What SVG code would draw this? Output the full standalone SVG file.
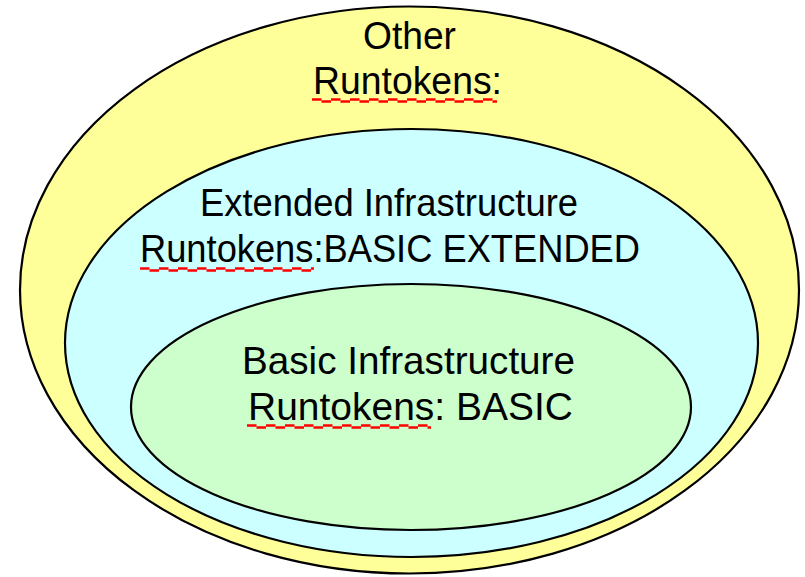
<svg xmlns="http://www.w3.org/2000/svg" width="805" height="577" viewBox="0 0 805 577">
<style>
.ring{stroke:#000;stroke-width:2.2}
.t{font-family:"Liberation Sans",Arial,sans-serif;font-size:39px;fill:#000}
.sq{stroke:#ff0000;stroke-width:2.4;fill:none;stroke-dasharray:9.5 9.5}
</style>
<rect width="805" height="577" fill="#fff"/>
<g id="other">
<ellipse class="ring" cx="409.5" cy="290" rx="389.5" ry="283.5" fill="#ffff99"/>
<text class="t" x="363" y="49" textLength="93" lengthAdjust="spacingAndGlyphs">Other</text>
<text class="t" x="313" y="94" textLength="189" lengthAdjust="spacingAndGlyphs">Runtokens:</text>
<path class="sq" d="M312 99.5H497"/>
<path class="sq" d="M312 101.5H497" stroke-dashoffset="9.5"/>
</g>
<g id="extended">
<ellipse class="ring" cx="411.5" cy="343" rx="346.5" ry="214" fill="#ccffff"/>
<text class="t" x="200" y="216" textLength="378" lengthAdjust="spacingAndGlyphs">Extended Infrastructure</text>
<text class="t" x="140" y="262" textLength="500" lengthAdjust="spacingAndGlyphs">Runtokens:BASIC EXTENDED</text>
<path class="sq" d="M140 268.5H314"/>
<path class="sq" d="M140 270.5H314" stroke-dashoffset="9.5"/>
</g>
<g id="basic">
<ellipse class="ring" cx="411" cy="407" rx="280" ry="123" fill="#ccffcc"/>
<text class="t" x="242" y="374" textLength="333" lengthAdjust="spacingAndGlyphs">Basic Infrastructure</text>
<text class="t" x="248" y="420" textLength="325" lengthAdjust="spacingAndGlyphs">Runtokens: BASIC</text>
<path class="sq" d="M247 425.5H431"/>
<path class="sq" d="M247 427.5H431" stroke-dashoffset="9.5"/>
</g>
<g id="connectors"/>
</svg>
